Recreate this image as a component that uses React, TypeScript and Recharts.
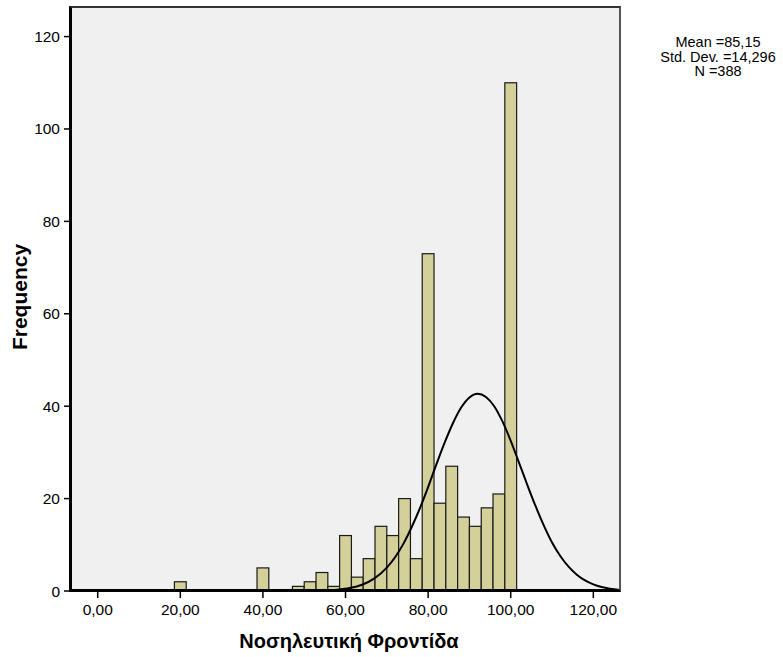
import React from 'react';
import { ComposedChart, Bar, Line, XAxis, YAxis, Label } from 'recharts';

// Histogram bins (centers) and frequencies
const binCenters = [20.0, 40.0, 48.57, 51.43, 54.29, 57.14, 60.0, 62.86, 65.71, 68.57, 71.43, 74.29, 77.14, 80.0, 82.86, 85.71, 88.57, 91.43, 94.29, 97.14, 100.0];
const binCounts = [2, 5, 1, 2, 4, 1, 12, 3, 7, 14, 12, 20, 7, 73, 19, 27, 16, 14, 18, 21, 110];
const BIN_WIDTH = 20 / 7;

// Normal curve points
const curveX = [-6.7, 20, 40, 44, 50, 54, 58, 61, 64, 67, 70, 72, 74, 76, 78, 80, 82, 84, 86, 88, 90, 92, 94, 96, 98, 100, 102, 104, 106, 108, 110, 112, 114, 116, 118, 120, 122, 124, 126, 126.7];
const curveY = [0, 0, 0, 0, 0.02, 0.08, 0.27, 0.63, 1.35, 2.73, 5.07, 7.31, 10.2, 13.8, 17.9, 22.5, 27.4, 32.1, 36.3, 39.7, 41.9, 42.7, 42.0, 40.0, 36.7, 32.5, 27.8, 23.0, 18.4, 14.2, 10.5, 7.58, 5.26, 3.53, 2.28, 1.43, 0.86, 0.5, 0.28, 0.21];

const xTicks = [0, 20, 40, 60, 80, 100, 120];
const yTicks = [0, 20, 40, 60, 80, 100, 120];
const statsLines = ['Mean =85,15', 'Std. Dev. =14,296', 'N =388'];

const X_MIN = -6.71;
const X_MAX = 126.7;
const Y_MAX = 126.4;

const W = 783;
const H = 657;
const M = { top: 7, right: 162, bottom: 0, left: 0 };
const Y_AXIS_W = 70;
const X_AXIS_H = 66;
const PLOT_W = W - M.right - M.left - Y_AXIS_W;
const PLOT_H = H - M.top - M.bottom - X_AXIS_H;
const BAR_PX = (BIN_WIDTH * PLOT_W) / (X_MAX - X_MIN);

const FONT = 'Arial, "Liberation Sans", Helvetica, sans-serif';

const barData = binCenters.map((x, i) => ({ x, count: binCounts[i] }));
const curveData = curveX.map((x, i) => ({ x, y: curveY[i] }));

const fmtX = (v: number) => v.toFixed(2).replace('.', ',');

const BarShape = (props: any) => {
  const { x, y, width, height } = props;
  if (height == null || height <= 0) return null;
  const cx = x + width / 2;
  return (
    <rect
      x={cx - BAR_PX / 2}
      y={y}
      width={BAR_PX}
      height={height}
      fill="#D4D09A"
      stroke="#1a1a1a"
      strokeWidth={1.2}
    />
  );
};

export default function App() {
  return (
    <div style={{ position: 'absolute', left: 0, top: 0, width: W, height: H, background: '#fff' }}>
      <div
        style={{
          position: 'absolute',
          left: M.left + Y_AXIS_W,
          top: M.top,
          width: PLOT_W,
          height: PLOT_H,
          background: '#F0F0F0',
        }}
      />
      <div style={{ position: 'absolute', left: 0, top: 0 }}>
        <ComposedChart width={W} height={H} data={barData} margin={M}>
          <XAxis
            dataKey="x"
            type="number"
            domain={[X_MIN, X_MAX]}
            ticks={xTicks}
            tickFormatter={fmtX}
            allowDataOverflow
            height={X_AXIS_H}
            axisLine={false}
            tickLine={{ stroke: '#000', strokeWidth: 1.5 }}
            tickSize={7}
            tickMargin={6}
            tick={{ fill: '#000', fontSize: 15.5, fontFamily: FONT }}
          >
            <Label
              content={() => (
                <text x={349} y={648} textAnchor="middle" fontSize={20} fontWeight="bold" fontFamily={FONT} fill="#000">
                  Νοσηλευτική Φροντίδα
                </text>
              )}
            />
          </XAxis>
          <YAxis
            type="number"
            domain={[0, Y_MAX]}
            ticks={yTicks}
            allowDataOverflow
            width={Y_AXIS_W}
            axisLine={false}
            tickLine={{ stroke: '#000', strokeWidth: 1.5 }}
            tickSize={6}
            tickMargin={4}
            tick={{ fill: '#000', fontSize: 15.5, fontFamily: FONT }}
          >
            <Label
              content={() => (
                <text
                  x={27}
                  y={297}
                  transform="rotate(-90 27 297)"
                  textAnchor="middle"
                  fontSize={21}
                  fontWeight="bold"
                  fontFamily={FONT}
                  fill="#000"
                >
                  Frequency
                </text>
              )}
            />
          </YAxis>
          <Bar dataKey="count" isAnimationActive={false} shape={<BarShape />} />
          <Line
            data={curveData}
            dataKey="y"
            type="monotone"
            stroke="#000"
            strokeWidth={2}
            dot={false}
            activeDot={false}
            isAnimationActive={false}
          />
        </ComposedChart>
      </div>
      {/* plot frame */}
      <div
        style={{
          position: 'absolute',
          left: M.left + Y_AXIS_W - 1,
          top: M.top - 1,
          width: PLOT_W + 1,
          height: PLOT_H + 2,
          borderLeft: '3px solid #000',
          borderBottom: '3px solid #000',
          borderTop: '2px solid #333',
          borderRight: '2px solid #555',
          boxSizing: 'border-box',
          pointerEvents: 'none',
        }}
      />
      <div
        style={{
          position: 'absolute',
          left: 650,
          top: 35,
          width: 136,
          textAlign: 'center',
          fontFamily: FONT,
          fontSize: 14.5,
          lineHeight: '14.5px',
          color: '#000',
        }}
      >
        {statsLines.map((s) => (
          <div key={s}>{s}</div>
        ))}
      </div>
    </div>
  );
}
